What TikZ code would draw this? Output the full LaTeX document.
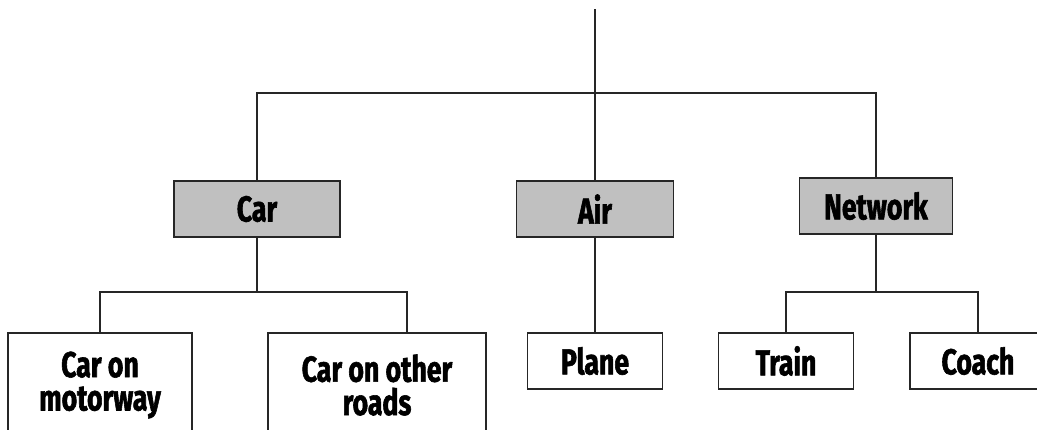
\documentclass[tikz,border=0pt]{standalone}
\usepackage{fontspec}
\newfontfamily\impfont{Fira Sans}[FakeStretch=0.74,FakeBold=1.6]
\begin{document}
\begin{tikzpicture}[x=0.75pt,y=-0.75pt,
  box/.style={draw=black!85,line width=1pt,rectangle,inner sep=0pt,align=center,
    font=\impfont\bfseries\fontsize{27}{25}\selectfont,minimum height=56*0.75pt},
  grey/.style={box,fill={rgb,255:red,192;green,192;blue,192}},
  conn/.style={draw=black!85,line width=1pt}]
\useasboundingbox (0,0) rectangle (1037,429);
\clip (0,0) rectangle (1037,429);
% top level
\node[grey,minimum width=166*0.75pt] (car) at (257,209) {Car};
\node[grey,minimum width=157*0.75pt] (air) at (595,209) {Air};
\node[grey,minimum width=153*0.75pt] (net) at (876,206) {Network};
% bottom level
\node[box,minimum width=184*0.75pt,minimum height=104*0.75pt] (mw) at (100,385) {Car on\\motorway};
\node[box,minimum width=218*0.75pt,minimum height=104*0.75pt] (cor) at (377,385) {Car on other\\roads};
\node[box,minimum width=135*0.75pt] (plane) at (595,361) {Plane};
\node[box,minimum width=135*0.75pt] (train) at (786,361) {Train};
\node[box,minimum width=136*0.75pt] (coach) at (978,361) {Coach};
% connectors
\coordinate (top) at (595,9);
\coordinate (hub) at (595,93);
\coordinate (cj) at (257,292);
\coordinate (corin) at (407,333);
\coordinate (nj) at (876,292);
\draw[conn] (top) -- (air.north);
\draw[conn] (car.north) |- (hub) -| (net.north);
\draw[conn] (air.south) -- (plane.north);
\draw[conn] (car.south) -- (cj);
\draw[conn] (mw.north) |- (cj) -| (corin);
\draw[conn] (net.south) -- (nj);
\draw[conn] (train.north) |- (nj) -| (coach.north);
\end{tikzpicture}
\end{document}
